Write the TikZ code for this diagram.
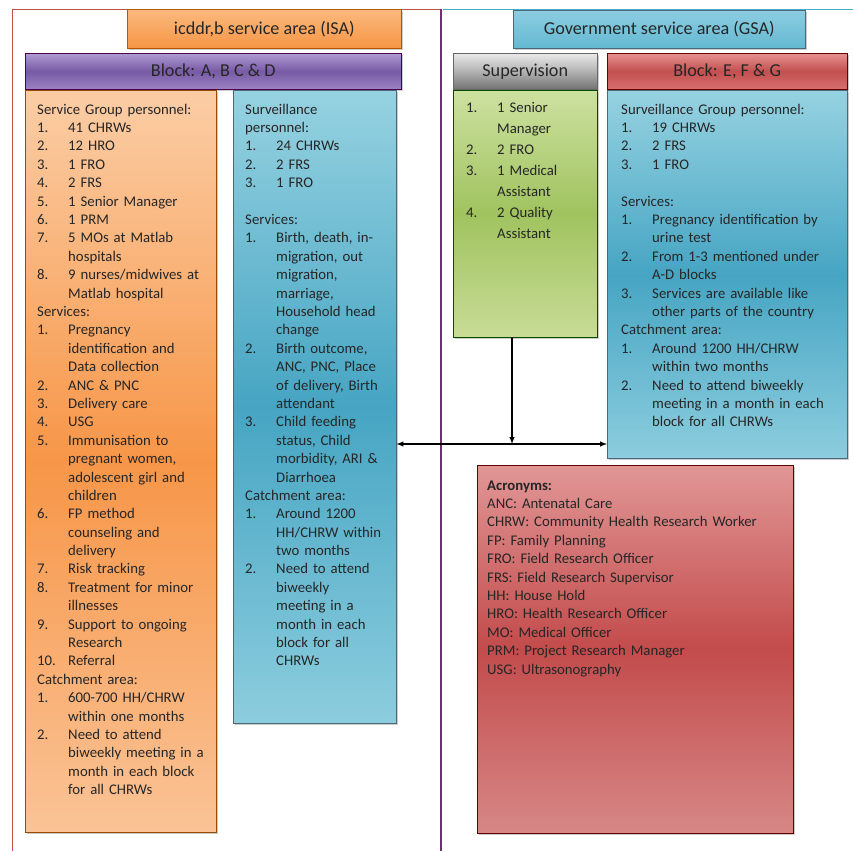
\documentclass[tikz,border=0pt]{standalone}
\usepackage{fontspec}
\setmainfont{Carlito}
\usepackage{xcolor}
\usetikzlibrary{arrows, positioning, calc, shadows}

\definecolor{isaframe}{RGB}{192,80,77}
\definecolor{midframe}{RGB}{112,48,112}
\definecolor{gsaframe}{RGB}{75,172,198}

\newlength{\itmind}
\setlength{\itmind}{0.93cm}
\newcommand{\itm}[2]{\par\noindent\hangindent=\itmind\hangafter=1\makebox[\itmind][l]{#1}#2}
\newcommand{\hdr}[1]{\par\noindent #1}
\def\pu{0.03cm}

\begin{document}
\begin{tikzpicture}[x=0.03cm, y=-0.03cm]
    \tikzstyle{shad} = [drop shadow={shadow xshift=1.2pt, shadow yshift=-1.5pt, opacity=0.4}]
    \tikzstyle{title} = [rectangle, anchor=north west, inner sep=0pt, text=black!85, font=\fontsize{15.5}{18}\selectfont, shad]
    \tikzstyle{body} = [rectangle, anchor=north west, inner sep=0pt, shad]
    \tikzstyle{list} = [anchor=north west, inner sep=0pt, align=left, text=black!85, font=\fontsize{12.6}{15.7}\selectfont]
    \tikzstyle{arrow} = [line width=1pt, ->, >=latex]

    \useasboundingbox (0,0) rectangle (853,851);

    % frames of the two areas
    \draw[isaframe, line width=0.8pt] (12,851) -- (12,9) -- (441,9);
    \draw[gsaframe, line width=0.8pt] (443,9) -- (853,9);
    \draw[midframe, line width=1.2pt] (441,9) -- (441,851);

    % icddr,b side
    \node[title, draw=orange!70!black, top color={rgb,255:red,251;green,185;blue,125}, bottom color={rgb,255:red,246;green,150;blue,70},
          minimum width=274*\pu, minimum height=39*\pu] (isa) at (127,9) {icddr,b service area (ISA)};
    \node[title, draw=violet!60!black, top color={rgb,255:red,175;green,155;blue,210}, bottom color={rgb,255:red,155;green,130;blue,195},
          middle color={rgb,255:red,120;green,90;blue,165}, minimum width=376*\pu, minimum height=36*\pu] (blkad) at (25,53) {Block: A, B C \& D};

    \node[body, draw=orange!60!black, top color={rgb,255:red,251;green,205;blue,165}, bottom color={rgb,255:red,250;green,195;blue,150},
          middle color={rgb,255:red,247;green,150;blue,72}, minimum width=191*\pu, minimum height=742*\pu] (svcgrp) at (25,90) {};
    \node[body, draw=cyan!40!black, top color={rgb,255:red,150;green,210;blue,225}, bottom color={rgb,255:red,140;green,205;blue,222},
          middle color={rgb,255:red,70;green,165;blue,195}, minimum width=163*\pu, minimum height=633*\pu] (survl) at (233,90) {};

    \node[list, text width=175*\pu] (svcgrptxt) at ([shift={(12,5.5)}]svcgrp.north west) {%
      \hdr{Service Group personnel:}
      \itm{1.}{41 CHRWs}
      \itm{2.}{12 HRO}
      \itm{3.}{1 FRO}
      \itm{4.}{2 FRS}
      \itm{5.}{1 Senior Manager}
      \itm{6.}{1 PRM}
      \itm{7.}{5 MOs at Matlab\newline hospitals}
      \itm{8.}{9 nurses/midwives at\newline Matlab hospital}
      \hdr{Services:}
      \itm{1.}{Pregnancy\newline identification and\newline Data collection}
      \itm{2.}{ANC \& PNC}
      \itm{3.}{Delivery care}
      \itm{4.}{USG}
      \itm{5.}{Immunisation to\newline pregnant women,\newline adolescent girl and\newline children}
      \itm{6.}{FP method\newline counseling and\newline delivery}
      \itm{7.}{Risk tracking}
      \itm{8.}{Treatment for minor\newline illnesses}
      \itm{9.}{Support to ongoing\newline Research}
      \itm{10.}{Referral}
      \hdr{Catchment area:}
      \itm{1.}{600-700 HH/CHRW\newline within one months}
      \itm{2.}{Need to attend\newline biweekly meeting in a\newline month in each block\newline for all CHRWs}\par};

    \node[list, text width=150*\pu] (survltxt) at ([shift={(12,5.5)}]survl.north west) {%
      \hdr{Surveillance\newline personnel:}
      \itm{1.}{24 CHRWs}
      \itm{2.}{2 FRS}
      \itm{3.}{1 FRO}
      \hdr{~}
      \hdr{Services:}
      \itm{1.}{Birth, death, in-\newline migration, out\newline migration,\newline marriage,\newline Household head\newline change}
      \itm{2.}{Birth outcome,\newline ANC, PNC, Place\newline of delivery, Birth\newline attendant}
      \itm{3.}{Child feeding\newline status, Child\newline morbidity, ARI \&\newline Diarrhoea}
      \hdr{Catchment area:}
      \itm{1.}{Around 1200\newline HH/CHRW within\newline two months}
      \itm{2.}{Need to attend\newline biweekly\newline meeting in a\newline month in each\newline block for all\newline CHRWs}\par};

    % government side
    \node[title, draw=cyan!40!black, top color={rgb,255:red,140;green,205;blue,225}, bottom color={rgb,255:red,100;green,185;blue,210},
          minimum width=292*\pu, minimum height=38*\pu] (gsa) at (513,10) {Government service area (GSA)};
    \node[title, draw=black!60, top color=black!8, bottom color=black!55, middle color=black!30,
          minimum width=144*\pu, minimum height=36*\pu] (supv) at (453,53) {Supervision};
    \node[title, draw=red!40!black, top color={rgb,255:red,230;green,145;blue,145}, bottom color={rgb,255:red,215;green,110;blue,110},
          middle color={rgb,255:red,195;green,80;blue,80}, minimum width=240*\pu, minimum height=36*\pu] (blkefg) at (607,53) {Block: E, F \& G};

    \node[body, draw=green!30!black, top color={rgb,255:red,205;green,225;blue,160}, bottom color={rgb,255:red,200;green,220;blue,150},
          middle color={rgb,255:red,160;green,195;blue,95}, minimum width=144*\pu, minimum height=247*\pu] (supvlist) at (453,90) {};
    \node[body, draw=cyan!40!black, top color={rgb,255:red,150;green,210;blue,225}, bottom color={rgb,255:red,140;green,205;blue,222},
          middle color={rgb,255:red,70;green,165;blue,195}, minimum width=240*\pu, minimum height=368*\pu] (survr) at (607,90) {};
    \node[body, draw=red!40!black, top color={rgb,255:red,225;green,150;blue,150}, bottom color={rgb,255:red,215;green,135;blue,135},
          middle color={rgb,255:red,195;green,75;blue,75}, minimum width=316*\pu, minimum height=368*\pu] (acro) at (477,465) {};

    \node[list, text width=128*\pu, font=\fontsize{12.6}{17.9}\selectfont] (supvtxt) at ([shift={(13,1.5)}]supvlist.north west) {%
      \itm{1.}{1 Senior\newline Manager}
      \itm{2.}{2 FRO}
      \itm{3.}{1 Medical\newline Assistant}
      \itm{4.}{2 Quality\newline Assistant}\par};

    \node[list, text width=224*\pu] (survrtxt) at ([shift={(14,5.5)}]survr.north west) {%
      \hdr{Surveillance Group personnel:}
      \itm{1.}{19 CHRWs}
      \itm{2.}{2 FRS}
      \itm{3.}{1 FRO}
      \hdr{~}
      \hdr{Services:}
      \itm{1.}{Pregnancy identification by\newline urine test}
      \itm{2.}{From 1-3 mentioned under\newline A-D blocks}
      \itm{3.}{Services are available like\newline other parts of the country}
      \hdr{Catchment area:}
      \itm{1.}{Around 1200 HH/CHRW\newline within two months}
      \itm{2.}{Need to attend biweekly\newline meeting in a month in each\newline block for all CHRWs}\par};

    \node[list, text width=300*\pu] (acrotxt) at ([shift={(10,6.5)}]acro.north west) {%
      \hdr{\textbf{Acronyms:}}
      \hdr{ANC: Antenatal Care}
      \hdr{CHRW: Community Health Research Worker}
      \hdr{FP: Family Planning}
      \hdr{FRO: Field Research Officer}
      \hdr{FRS: Field Research Supervisor}
      \hdr{HH: House Hold}
      \hdr{HRO: Health Research Officer}
      \hdr{MO: Medical Officer}
      \hdr{PRM: Project Research Manager}
      \hdr{USG: Ultrasonography}\par};

    % links
    \coordinate (jn) at (512,444);
    \draw[arrow] (supvlist.south -| jn) -- (jn);
    \draw[arrow, <->] (survl.east |- jn) -- (survr.west |- jn);
\end{tikzpicture}
\end{document}
